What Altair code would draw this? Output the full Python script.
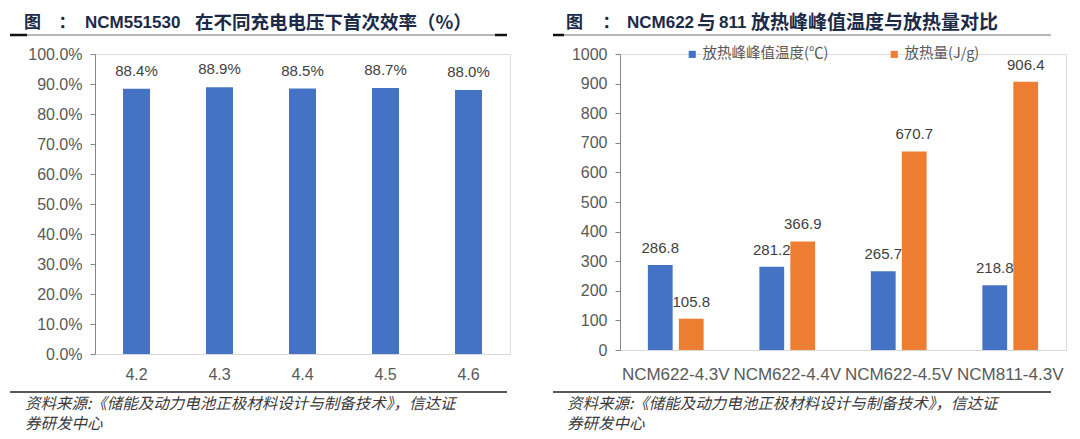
import altair as alt
import pandas as pd

# ---------------- data ----------------
voltages = ["4.2", "4.3", "4.4", "4.5", "4.6"]
efficiency = [0.884, 0.889, 0.885, 0.887, 0.880]

samples = ["NCM622-4.3V", "NCM622-4.4V", "NCM622-4.5V", "NCM811-4.3V"]
peak_temp = [286.8, 281.2, 265.7, 218.8]
heat_release = [105.8, 366.9, 670.7, 906.4]
series_names = ["放热峰峰值温度(℃)", "放热量(J/g)"]

# title pieces: (text, x offset from plot left, font size, is_cjk)
title_left = [("图", -71, 17, True), ("：", -36.5, 17, True),
              ("NCM551530", -10, 17, False), ("在不同充电电压下首次效率（%）", 100, 18.5, True)]
title_right = [("图", -54, 17, True), ("：", -17.5, 17, True), ("NCM622", 7, 17, False),
               ("与", 77, 18.5, True), ("811", 99, 17, False),
               ("放热峰峰值温度与放热量对比", 131, 19, True)]
source_line1 = "资料来源:《储能及动力电池正极材料设计与制备技术》，信达证"
source_line2 = "券研发中心"

pct_ticks = [0, 0.1, 0.2, 0.3, 0.4, 0.5, 0.6, 0.7, 0.8, 0.9, 1.0]
num_ticks = [0, 100, 200, 300, 400, 500, 600, 700, 800, 900, 1000]

# ---------------- styles ----------------
FONT = "Liberation Sans, Noto Sans CJK SC"
CJK = "Noto Sans CJK SC"
BLUE = "#4472C4"
ORANGE = "#ED7D31"
TITLE_C = "#1b2a47"
AXIS_C = "#595959"
LABEL_C = "#404040"
TITLE_Y = -31

left_df = pd.DataFrame({"voltage": voltages, "eff": efficiency})
right_df = pd.DataFrame({
    "sample": samples * 2,
    "series": [series_names[0]] * len(samples) + [series_names[1]] * len(samples),
    "value": peak_temp + heat_release,
})


def text_layer(txt, x, y, size, color, weight="normal", style="normal", font=FONT):
    return alt.Chart(alt.Data(values=[{"t": txt}])).mark_text(
        align="left", baseline="middle", fontSize=size, color=color,
        fontWeight=weight, fontStyle=style, font=font
    ).encode(x=alt.value(x), y=alt.value(y), text="t:N")


def rule(x1, x2, y, color, width):
    return alt.Chart(alt.Data(values=[{"k": 1}])).mark_rule(
        color=color, strokeWidth=width
    ).encode(x=alt.value(x1), x2=alt.value(x2), y=alt.value(y))


def decorations(x0, x1, black_left, black_right, title_parts, tx):
    layers = [rule(x0, x0 + 2, -45, "white", 0.5)]  # top margin keeper
    layers += [
        text_layer(t, x, TITLE_Y, s, TITLE_C, weight="bold", font=(CJK if cjk else FONT))
        for (t, x, s, cjk) in title_parts
    ]
    layers += [
        rule(x0, x1, -19, "#6f6f6f", 1),
        rule(x0, black_left, -19, "#111111", 2.5),
        rule(x0, x1, 338, "#222222", 1.5),
        text_layer(source_line1, tx + 1, 350, 15.5, "#3a3a3a", style="italic", font=CJK),
        text_layer(source_line2, tx + 1, 370, 15.5, "#3a3a3a", style="italic", font=CJK),
    ]
    if black_right is not None:
        layers.append(rule(black_right, x1, -19, "#111111", 2.5))
    return layers


# ---------------- left chart ----------------
lx = alt.X("voltage:N", sort=voltages, title=None,
           scale=alt.Scale(paddingInner=0.675, paddingOuter=0.3375),
           axis=alt.Axis(labelAngle=0, ticks=False, labelPadding=12, labelFontSize=16,
                         labelColor=AXIS_C, domainColor="#d9d9d9", labelFont=FONT))
ly = alt.Y("eff:Q", title=None, scale=alt.Scale(domain=[0, 1]),
           axis=alt.Axis(values=pct_ticks, format=".1%", grid=False, tickSize=5,
                         tickColor="#868686", domainColor="#868686", labelFontSize=16,
                         labelColor=AXIS_C, labelPadding=8, labelFont=FONT))

left_bars = alt.Chart(left_df).mark_bar(color=BLUE).encode(x=lx, y=ly)
left_labels = alt.Chart(left_df).mark_text(
    baseline="bottom", dy=-10, fontSize=15, color=LABEL_C, font=FONT
).encode(x=lx, y=ly, text=alt.Text("eff:Q", format=".1%"))

left = alt.layer(
    left_bars, left_labels,
    *decorations(-85, 412, -68, 400, title_left, -71)
).properties(width=415, height=300)

# ---------------- right chart ----------------
rx = alt.X("sample:N", sort=samples, title=None,
           scale=alt.Scale(paddingInner=0.5, paddingOuter=0.25),
           axis=alt.Axis(labelAngle=0, ticks=False, labelPadding=16, labelFontSize=17,
                         labelColor=AXIS_C, domainColor="#d9d9d9", labelFont=FONT,
                         labelLimit=200))
rxo = alt.XOffset("series:N", sort=series_names,
                  scale=alt.Scale(paddingInner=0.2, paddingOuter=0))
ry = alt.Y("value:Q", title=None, scale=alt.Scale(domain=[0, 1000]),
           axis=alt.Axis(values=num_ticks, format="d", grid=False, tickSize=5,
                         tickColor="#868686", domainColor="#868686", labelFontSize=16,
                         labelColor=AXIS_C, labelPadding=8, labelFont=FONT))
rcolor = alt.Color("series:N", sort=series_names,
                   scale=alt.Scale(domain=series_names, range=[BLUE, ORANGE]),
                   legend=alt.Legend(orient="none", legendX=590, legendY=-7,
                                     direction="horizontal", title=None,
                                     symbolType="square", symbolSize=50,
                                     symbolStrokeWidth=0, labelFontSize=14.5,
                                     labelColor=AXIS_C, labelFont=CJK,
                                     columnPadding=58, labelOffset=3))

right_bars = alt.Chart(right_df).mark_bar().encode(x=rx, xOffset=rxo, y=ry, color=rcolor)
right_labels = alt.Chart(right_df).mark_text(
    baseline="bottom", dy=-9, fontSize=15, color=LABEL_C, font=FONT
).encode(x=rx, xOffset=rxo, y=ry, text=alt.Text("value:Q", format=".1f"))

right = alt.layer(
    right_bars, right_labels,
    *decorations(-67, 431, -56, None, title_right, -54)
).properties(width=446, height=296)

chart = alt.hconcat(left, right, spacing=40).properties(
    padding={"left": 0, "top": 0, "right": 0, "bottom": 0}
).configure_view(stroke=None).configure(background="white")

chart.save("out.html", embed_options={"renderer": "svg", "actions": False})
